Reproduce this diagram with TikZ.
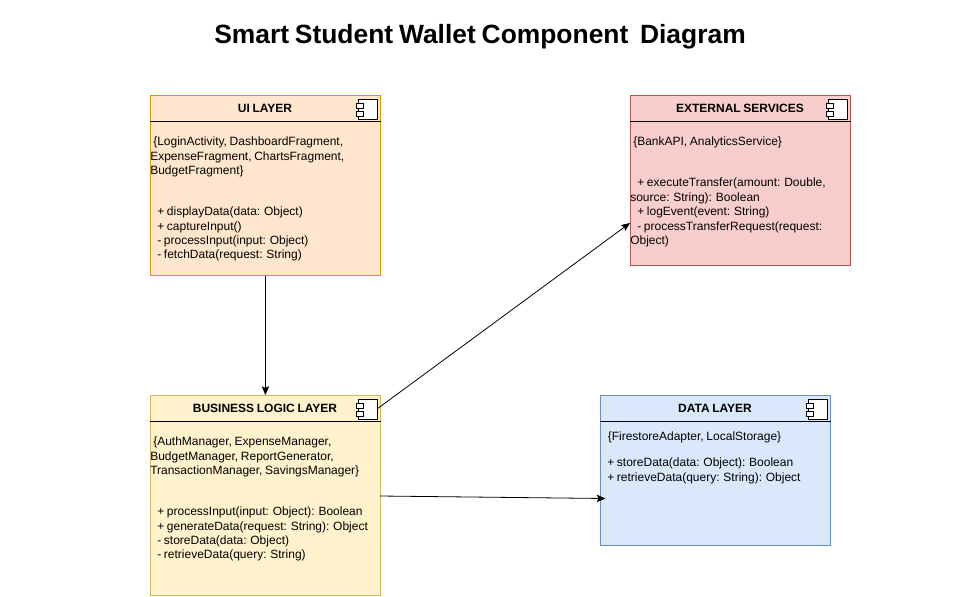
\documentclass[tikz,border=0pt]{standalone}
\usepackage{fontspec}
\setmainfont[WordSpace=0.8]{Liberation Sans}
\usetikzlibrary{arrows.meta}
\definecolor{uifill}{HTML}{FFE6CC}\definecolor{uidraw}{HTML}{D79B00}
\definecolor{bizfill}{HTML}{FFF2CC}\definecolor{bizdraw}{HTML}{D6B656}
\definecolor{extfill}{HTML}{F8CECC}\definecolor{extdraw}{HTML}{B85450}
\definecolor{datafill}{HTML}{DAE8FC}\definecolor{datadraw}{HTML}{6C8EBF}
\tikzset{
 x=0.75pt,y=-0.75pt,
 layerbox/.style={draw,line width=0.6pt,inner sep=0pt,anchor=north west,minimum width=172.5pt},
 headrule/.style={line width=0.6pt,black},
 headtext/.style={font=\bfseries\fontsize{9}{10.8}\selectfont,inner sep=0pt,anchor=center,text=black},
 bodytext/.style={font=\fontsize{9}{10.8}\selectfont,inner sep=0pt,anchor=north west,align=left,text=black},
 link/.style={line width=0.6pt,black,-{Stealth[length=6.5pt,width=5.5pt,inset=1.2pt]}},
 iconpart/.style={draw=black,fill=white,line width=0.6pt},
}
\newcommand{\compicon}[2]{%
 \draw[iconpart] (#1+2,#2) rectangle (#1+21,#2+20);
 \draw[iconpart] (#1,#2+4) rectangle (#1+7,#2+9);
 \draw[iconpart] (#1,#2+12) rectangle (#1+7,#2+17);
}
\begin{document}
\begin{tikzpicture}
\useasboundingbox (0,0) rectangle (960,596);
\node[font=\bfseries\fontsize{19.8}{23}\selectfont,inner sep=0pt] (title) at (480,37) {Smart Student Wallet Component\ \ Diagram};

\node[layerbox,fill=uifill,draw=uidraw,minimum height=135pt] (ui) at (150,95) {};
\draw[headrule] (ui.west |- 0,121) -- (ui.east |- 0,121);
\node[headtext] (uihead) at (265,108) {UI LAYER};
\compicon{356}{99}
\node[bodytext] (uitop) at (150,137) {\hspace*{2.25pt}\{LoginActivity, DashboardFragment,\\ExpenseFragment, ChartsFragment,\\BudgetFragment\}};
\node[bodytext] (uibody) at (150,206.7) {\hspace*{5.25pt}+ displayData(data: Object)\\\hspace*{5.25pt}+ captureInput()\\\hspace*{5.25pt}- processInput(input: Object)\\\hspace*{5.25pt}- fetchData(request: String)};

\node[layerbox,fill=extfill,draw=extdraw,minimum width=165pt,minimum height=127.5pt] (ext) at (630,95) {};
\draw[headrule] (ext.west |- 0,121) -- (ext.east |- 0,121);
\node[headtext] (exthead) at (740,108) {EXTERNAL SERVICES};
\compicon{826}{99}
\node[bodytext] (exttop) at (630,137) {\hspace*{2.25pt}\{BankAPI, AnalyticsService\}};
\node[bodytext] (extbody) at (630,178) {\hspace*{5.25pt}+ executeTransfer(amount: Double,\\source: String): Boolean\\\hspace*{5.25pt}+ logEvent(event: String)\\\hspace*{5.25pt}- processTransferRequest(request:\\Object)};

\node[layerbox,fill=bizfill,draw=bizdraw,minimum height=150pt] (biz) at (150,395) {};
\draw[headrule] (biz.west |- 0,421) -- (biz.east |- 0,421);
\node[headtext] (bizhead) at (265,408) {BUSINESS LOGIC LAYER};
\compicon{356}{399}
\node[bodytext] (biztop) at (150,437) {\hspace*{2.25pt}\{AuthManager, ExpenseManager,\\BudgetManager, ReportGenerator,\\TransactionManager, SavingsManager\}};
\node[bodytext] (bizbody) at (150,506.7) {\hspace*{5.25pt}+ processInput(input: Object): Boolean\\\hspace*{5.25pt}+ generateData(request: String): Object\\\hspace*{5.25pt}- storeData(data: Object)\\\hspace*{5.25pt}- retrieveData(query: String)};

\node[layerbox,fill=datafill,draw=datadraw,minimum height=112.5pt] (data) at (600,395) {};
\draw[headrule] (data.west |- 0,421) -- (data.east |- 0,421);
\node[headtext] (datahead) at (715,408) {DATA LAYER};
\compicon{806}{399}
\node[bodytext] (datatop) at (607.5,432) {\{FirestoreAdapter, LocalStorage\}};
\node[bodytext] (databody) at (607,458) {+ storeData(data: Object): Boolean\\+ retrieveData(query: String): Object};

\coordinate (bizout) at (377,409);
\coordinate (extin) at (630,223);
\coordinate (bizright) at (380,496);
\coordinate (datain) at (605.5,498.5);
\draw[link] (ui.south) -- (biz.north);
\draw[link] (bizout) -- (extin);
\draw[link] (bizright) -- (datain);
\end{tikzpicture}
\end{document}
